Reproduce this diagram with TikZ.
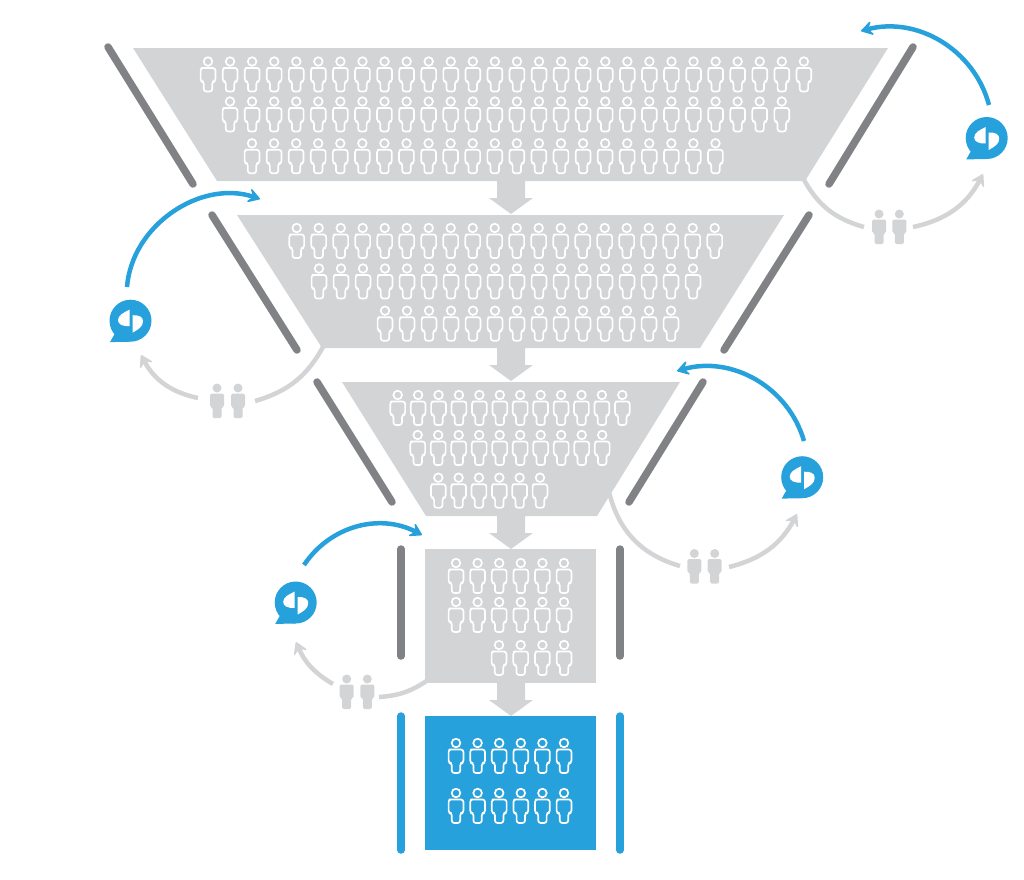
\documentclass[tikz,border=0pt]{standalone}
\usetikzlibrary{arrows.meta}
\definecolor{funnelgrey}{HTML}{D3D4D6}
\definecolor{bargrey}{HTML}{808285}
\definecolor{talkblue}{HTML}{27A1DC}
\tikzset{
    wallbar/.style={line width=7.5pt, line cap=round, bargrey},
    bluebar/.style={line width=7.5pt, line cap=round, talkblue},
    greyarc/.style={line width=4.5pt, funnelgrey, -{Stealth[length=14pt, width=17pt, inset=6pt, line width=1.5pt, round]}},
    greystub/.style={line width=4.5pt, funnelgrey},
    bluearc/.style={line width=4.5pt, talkblue, -{Stealth[length=14pt, width=17pt, inset=6pt, line width=1.5pt, round]}},
    talkbubble/.style={circle, fill=talkblue, minimum size=42pt, inner sep=0pt},
    person/.pic={
        \draw[white, line width=1.7pt] (0, 5) circle (4.3);
        \draw[white, line width=1.7pt, rounded corners=2.5pt, line join=round]
            (-4.2, 11.5) -- (-7.4, 11.5) -- (-7.4, 25) -- (-4.2, 25) -- (-4.2, 35)
            -- (4.2, 35) -- (4.2, 25) -- (7.4, 25) -- (7.4, 11.5) -- cycle;
    },
    solidperson/.pic={
        \fill[funnelgrey] (0, 4.5) circle (4.5);
        \fill[funnelgrey, rounded corners=1.5pt]
            (-7, 10) -- (7, 10) -- (7, 23.5) -- (4.5, 23.5) -- (4.5, 34.5)
            -- (-4.5, 34.5) -- (-4.5, 23.5) -- (-7, 23.5) -- cycle;
    },
}
\begin{document}
\begin{tikzpicture}[x=1pt, y=-1pt]
    \useasboundingbox (0, 0) rectangle (1024, 879);

    % tiers
    \fill[funnelgrey] (133, 48) -- (888, 48) -- (805, 181) -- (217, 181) -- cycle;
    \fill[funnelgrey] (237, 215) -- (784, 215) -- (700, 348) -- (322, 348) -- cycle;
    \fill[funnelgrey] (342, 382) -- (680, 382) -- (597, 516) -- (426, 516) -- cycle;
    \fill[funnelgrey] (425, 549) rectangle (596, 683);
    \fill[talkblue] (425, 716) rectangle (596, 850);

    % arrows between tiers
    \foreach \u in {181, 348, 516, 683}
        {
            \fill[funnelgrey] (497, \u) -- (525, \u) -- (525, \u+17) -- (533, \u+17)
                -- (511, \u+33) -- (489, \u+17) -- (497, \u+17) -- cycle;
        }

    % side walls
    \draw[wallbar] (108, 47) -- (193, 184);
    \draw[wallbar] (913, 47) -- (829, 184);
    \draw[wallbar] (212, 215) -- (297, 350);
    \draw[wallbar] (809, 215) -- (724, 350);
    \draw[wallbar] (317, 382) -- (392, 502);
    \draw[wallbar] (703, 382) -- (629, 502);
    \draw[wallbar] (401, 549) -- (401, 656);
    \draw[wallbar] (620, 549) -- (620, 656);
    \draw[bluebar] (401, 716) -- (401, 850);
    \draw[bluebar] (620, 716) -- (620, 850);

    % people in the tiers
    \foreach \u in {208, 230.07, ..., 804.5}
        \pic at (\u, 56.5) {person};
    \foreach \u in {230, 252.07, ..., 782.5}
        \pic at (\u, 96.5) {person};
    \foreach \u in {252, 274.07, ..., 716.5}
        \pic at (\u, 138.3) {person};

    \foreach \u in {296.7, 318.7, ..., 715}
        \pic at (\u, 223) {person};
    \foreach \u in {319, 341, ..., 694}
        \pic at (\u, 263.5) {person};
    \foreach \u in {385, 407, ..., 671}
        \pic at (\u, 305.7) {person};

    \foreach \u in {397.7, 418.12, ..., 623}
        \pic at (\u, 390) {person};
    \foreach \u in {417.7, 438.2, ..., 603}
        \pic at (\u, 430) {person};
    \foreach \u in {438.3, 458.64, ..., 541}
        \pic at (\u, 472.7) {person};

    \foreach \u in {456, 477.6, ..., 564.5}
        {
            \pic at (\u, 558) {person};
            \pic at (\u, 597) {person};
            \pic at (\u, 738) {person};
            \pic at (\u, 788) {person};
        }
    \foreach \u in {499, 520.7, ..., 564.5}
        \pic at (\u, 640) {person};

    % people outside the funnel
    \foreach \u/\v in {879/209.5, 899.3/209.5, 217/383.5, 238/383.5, 694.3/549, 714.7/549, 346.7/674.5, 367.3/674.5}
        \pic at (\u, \v) {solidperson};

    % speech bubbles
    \foreach \n/\u/\v in {bubbleA/986.7/138, bubbleB/130.5/320.7, bubbleC/802.2/477.2, bubbleD/295.7/602.5}
        {
            \node[talkbubble] (\n) at (\u, \v) {};
            \fill[talkblue] (\u-14, \v+10) -- (\u-20.5, \v+21.4) -- (\u, \v+21) -- cycle;
            \fill[white] (\u-1, \v-11) -- (\u-1, \v+5.5) .. controls (\u-8, \v+5.8) and (\u-12.5, \v+3.5) .. (\u-12.5, \v-0.5)
                .. controls (\u-12.5, \v-5.5) and (\u-7, \v-8) .. (\u-1, \v-11) -- cycle;
            \fill[white] (\u+2, \v+12) -- (\u+2, \v-5.5) .. controls (\u+9, \v-5.8) and (\u+12.5, \v-3.5) .. (\u+12.5, \v+0.5)
                .. controls (\u+12.5, \v+6) and (\u+8, \v+8.5) .. (\u+2, \v+12) -- cycle;
        }

    % loops round the walls
    \coordinate (cornerA) at (803, 178);
    \coordinate (stubA) at (864, 227);
    \coordinate (startA) at (913, 227);
    \coordinate (tipA) at (983, 174);
    \coordinate (blueA) at (861, 31);
    \coordinate (topA) at (989, 105);
    \draw[greystub] (cornerA) to[bend right=23] (stubA);
    \draw[greyarc] (startA) to[bend right=25] (tipA);
    \draw[bluearc] (topA) to[bend right=45] (blueA);

    \coordinate (cornerB) at (324, 345);
    \coordinate (stubB) at (255, 401);
    \coordinate (startB) at (198, 398);
    \coordinate (tipB) at (141, 355);
    \coordinate (blueB) at (260, 199);
    \coordinate (topB) at (127, 287);
    \draw[greystub] (cornerB) to[bend left=23] (stubB);
    \draw[greyarc] (startB) to[bend left=25] (tipB);
    \draw[bluearc] (topB) to[bend left=52] (blueB);

    \coordinate (cornerC) at (609, 492);
    \coordinate (stubC) at (680, 566);
    \coordinate (startC) at (729, 567);
    \coordinate (tipC) at (797, 514);
    \coordinate (blueC) at (677, 371);
    \coordinate (topC) at (804, 441);
    \draw[greystub] (cornerC) to[bend right=30] (stubC);
    \draw[greyarc] (startC) to[bend right=24] (tipC);
    \draw[bluearc] (topC) to[bend right=45] (blueC);

    \coordinate (cornerD) at (428, 680);
    \coordinate (stubD) at (379, 697);
    \coordinate (startD) at (333, 684);
    \coordinate (tipD) at (296, 642);
    \coordinate (blueD) at (422, 535);
    \coordinate (topD) at (304, 565);
    \draw[greystub] (cornerD) to[bend left=15] (stubD);
    \draw[greyarc] (startD) to[bend left=18] (tipD);
    \draw[bluearc] (topD) to[bend left=42] (blueD);
\end{tikzpicture}
\end{document}
